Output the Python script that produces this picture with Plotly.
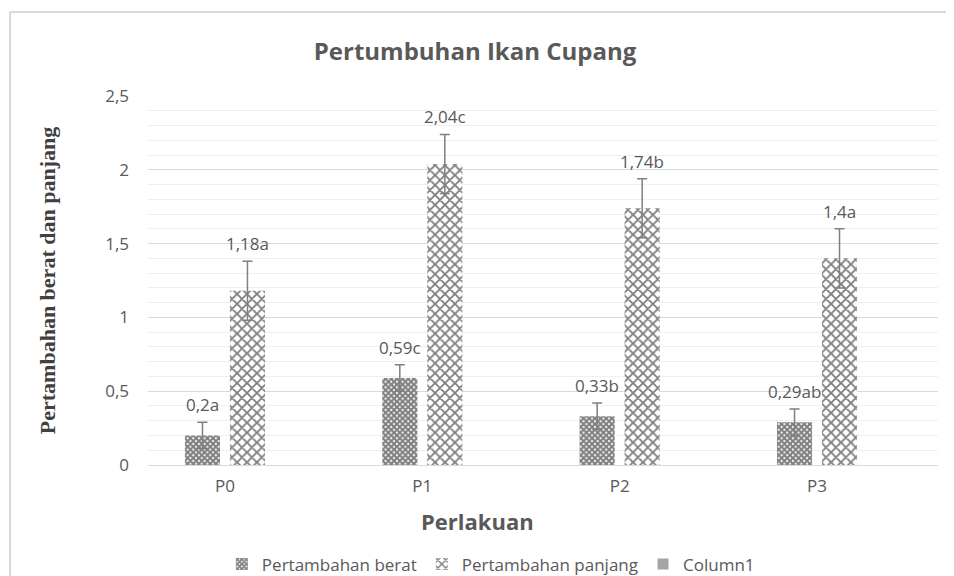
import plotly.graph_objects as go

categories = ["P0", "P1", "P2", "P3"]
berat = [0.2, 0.59, 0.33, 0.29]
panjang = [1.18, 2.04, 1.74, 1.4]
berat_err = [0.09, 0.09, 0.09, 0.09]
panjang_err = [0.2, 0.2, 0.2, 0.2]
berat_labels = ["0,2a", "0,59c", "0,33b", "0,29ab"]
panjang_labels = ["1,18a", "2,04c", "1,74b", "1,4a"]
y_ticks = [0, 0.5, 1, 1.5, 2, 2.5]
y_ticktext = ["0", "0,5", "1", "1,5", "2", "2,5"]

GRAY = "#595959"
FONT = "Open Sans"

fig = go.Figure()
fig.add_trace(go.Bar(
    name="Pertambahan berat", x=categories, y=berat,
    marker=dict(color="white", line=dict(width=0),
                pattern=dict(shape="x", fgcolor="black", bgcolor="white", size=4, solidity=0.78)),
    error_y=dict(type="data", array=berat_err, color="#7f7f7f", thickness=1.5, width=5),
))
fig.add_trace(go.Bar(
    name="Pertambahan panjang", x=categories, y=panjang,
    marker=dict(color="white", line=dict(width=0),
                pattern=dict(shape="x", fgcolor="black", bgcolor="white", size=7, solidity=0.45)),
    error_y=dict(type="data", array=panjang_err, color="#7f7f7f", thickness=1.5, width=5),
))
fig.add_trace(go.Scatter(
    name="Column1", x=[None], y=[None], mode="markers",
    marker=dict(symbol="square", color="#a5a5a5", size=11),
))

for i, c in enumerate(categories):
    fig.add_annotation(x=c, y=berat[i] + berat_err[i], xref="x", yref="y", xshift=-22.5,
                       text=berat_labels[i], showarrow=False, yanchor="bottom", yshift=4,
                       font=dict(family=FONT, size=17, color=GRAY))
    fig.add_annotation(x=c, y=panjang[i] + panjang_err[i], xref="x", yref="y", xshift=22.5,
                       text=panjang_labels[i], showarrow=False, yanchor="bottom", yshift=4,
                       font=dict(family=FONT, size=17, color=GRAY))

# x-axis title (centred on the chart rather than on the plot area)
fig.add_annotation(text="<b>Perlakuan</b>", xref="paper", yref="paper", x=0.4165, y=-0.152,
                   xanchor="center", yanchor="middle", showarrow=False,
                   font=dict(family=FONT, size=22, color=GRAY))

# chart frame (top and left edges)
fig.add_shape(type="line", xref="paper", yref="paper", x0=-0.1747, x1=1.03, y0=1.2276, y1=1.2276,
              line=dict(color="#d9d9d9", width=2))
fig.add_shape(type="line", xref="paper", yref="paper", x0=-0.1747, x1=-0.1747, y0=1.2276, y1=-0.31,
              line=dict(color="#d9d9d9", width=2))

fig.update_layout(
    width=946, height=568,
    margin=dict(l=140, r=16, t=88, b=111, autoexpand=False),
    paper_bgcolor="white", plot_bgcolor="white",
    barmode="group", bargap=0.544, bargroupgap=0.22,
    title=dict(text="<b>Pertumbuhan Ikan Cupang</b>", x=0.4937, xanchor="center", y=1 - 44 / 568,
               yanchor="middle", font=dict(family=FONT, size=24, color=GRAY)),
    font=dict(family=FONT, size=17, color=GRAY),
    xaxis=dict(
        automargin=False, range=[-0.39, 3.613],
        showgrid=False, showline=True, linecolor="#d9d9d9", linewidth=1, ticks="",
        ticklabelstandoff=6,
        tickfont=dict(family=FONT, size=17, color=GRAY),
    ),
    yaxis=dict(
        automargin=False,
        range=[0, 2.5], tickvals=y_ticks, ticktext=y_ticktext,
        showgrid=True, gridcolor="#d9d9d9", gridwidth=1, zeroline=False,
        minor=dict(dtick=0.1, showgrid=True, gridcolor="#efefef", gridwidth=1),
        ticks="", ticklabelstandoff=18,
        tickfont=dict(family=FONT, size=17, color=GRAY),
        title=dict(text="<b>Pertambahan berat dan panjang</b>",
                   font=dict(family="Liberation Serif", size=22, color="#404040"), standoff=43),
    ),
    legend=dict(orientation="h", x=0.434, xanchor="center", y=-0.221, yanchor="top",
                font=dict(family=FONT, size=17, color=GRAY), itemwidth=30, traceorder="normal"),
    showlegend=True,
)

fig.write_html("out.html")
